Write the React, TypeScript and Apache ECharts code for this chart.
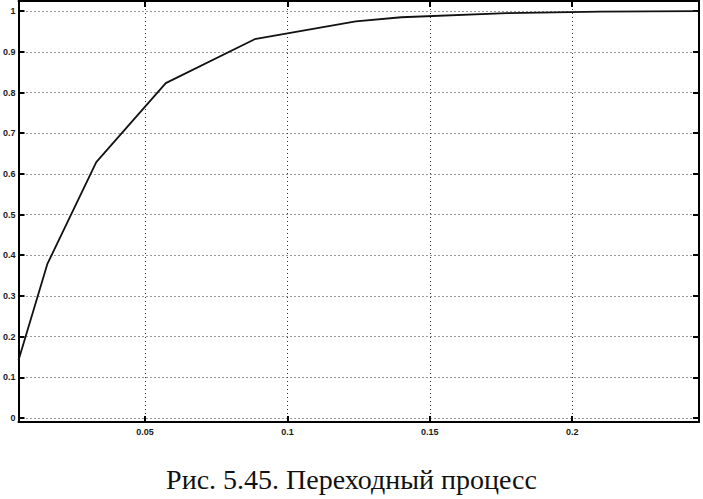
import React, { useEffect, useRef } from "react";
import * as echarts from "echarts";

const tValues = [0.0056, 0.0157, 0.0329, 0.0573, 0.0885, 0.124, 0.14, 0.177, 0.21, 0.244];
const hValues = [0.142, 0.378, 0.629, 0.823, 0.931, 0.975, 0.985, 0.995, 0.999, 1.0];
const xTicks = [0.05, 0.1, 0.15, 0.2];
const yTicks = [0, 0.1, 0.2, 0.3, 0.4, 0.5, 0.6, 0.7, 0.8, 0.9, 1];
const caption = "Рис. 5.45. Переходный процесс";

const X_MIN = 0.0056;
const X_MAX = 0.2445;
const Y_MIN = -0.01;
const Y_MAX = 1.025;

export default function App() {
  const ref = useRef<HTMLDivElement>(null);
  useEffect(() => {
    if (!ref.current) return;
    const chart = echarts.init(ref.current, undefined, { renderer: "svg" });
    const grid = "#333";
    const dotted = { show: true, lineStyle: { color: grid, width: 1, type: [1, 3] as any } };
    const axisLine = { show: true, onZero: false, lineStyle: { color: "#000", width: 2 } };
    const tick = (vals: number[]) => ({
      show: true,
      inside: true,
      length: 6,
      customValues: vals,
      lineStyle: { color: "#000", width: 2 },
    });
    const label = (vals: number[], fmt: (v: number) => string) => ({
      show: true,
      customValues: vals,
      fontFamily: "Arial, Liberation Sans, sans-serif",
      fontSize: 9,
      fontWeight: "bold" as const,
      color: "#1a1a1a",
      formatter: (v: number) => fmt(v),
    });
    const fmt = (v: number) => String(Math.round(v * 100) / 100);
    chart.setOption({
      animation: false,
      backgroundColor: "#fff",
      grid: { left: 14, right: 4, top: 1, bottom: 77, containLabel: false },
      xAxis: [
        {
          type: "value",
          min: X_MIN,
          max: X_MAX,
          axisLine,
          axisTick: tick(xTicks),
          axisLabel: { ...label(xTicks, fmt), margin: 5 },
          splitLine: dotted,
        },
        {
          type: "value",
          position: "top",
          min: X_MIN,
          max: X_MAX,
          axisLine,
          axisTick: tick(xTicks),
          axisLabel: { show: false },
          splitLine: { show: false },
        },
      ],
      yAxis: [
        {
          type: "value",
          min: Y_MIN,
          max: Y_MAX,
          axisLine,
          axisTick: tick(yTicks),
          axisLabel: { ...label(yTicks, fmt), margin: 3 },
          splitLine: dotted,
        },
        {
          type: "value",
          position: "right",
          min: Y_MIN,
          max: Y_MAX,
          axisLine,
          axisTick: tick(yTicks),
          axisLabel: { show: false },
          splitLine: { show: false },
        },
      ],
      series: [
        {
          type: "line",
          xAxisIndex: 0,
          yAxisIndex: 0,
          data: tValues.map((t, i) => [t, hValues[i]]),
          showSymbol: false,
          symbol: "none",
          lineStyle: { color: "#111", width: 1.8 },
        },
      ],
      graphic: [
        {
          type: "text",
          left: "center",
          top: 465,
          style: {
            text: caption,
            fontFamily: "Liberation Serif, Times New Roman, serif",
            fontSize: 28,
            fill: "#111",
          },
        },
      ],
    });
    return () => chart.dispose();
  }, []);
  return <div ref={ref} style={{ width: 703, height: 499, position: "absolute", left: 0, top: 0 }} />;
}
